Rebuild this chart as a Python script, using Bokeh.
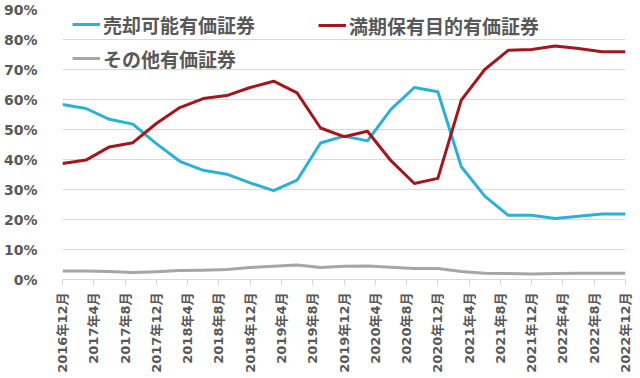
from math import pi
from bokeh.plotting import figure
from bokeh.models import (Range1d, FixedTicker, PrintfTickFormatter, Legend, LegendItem)
from bokeh.embed import file_html
from bokeh.resources import INLINE

# ---- data (quarter-end dates, % of total) ----
dates = ["2016-12", "2017-03", "2017-06", "2017-09", "2017-12", "2018-03", "2018-06",
         "2018-09", "2018-12", "2019-03", "2019-06", "2019-09", "2019-12", "2020-03",
         "2020-06", "2020-09", "2020-12", "2021-03", "2021-06", "2021-09", "2021-12",
         "2022-03", "2022-06", "2022-09", "2022-12"]
available_for_sale = [58.3, 57.0, 53.4, 51.8, 45.3, 39.4, 36.4, 35.1, 32.2, 29.6, 33.1, 45.5,
                      47.8, 46.2, 56.7, 64.0, 62.6, 37.6, 27.8, 21.4, 21.4, 20.3, 21.1, 21.8, 21.8]
held_to_maturity = [38.7, 39.8, 44.2, 45.6, 52.0, 57.3, 60.3, 61.3, 64.0, 66.1, 62.2, 50.5,
                    47.6, 49.4, 39.6, 32.0, 33.7, 59.8, 70.0, 76.4, 76.7, 77.8, 77.0, 75.9, 75.9]
other = [2.8, 2.8, 2.7, 2.3, 2.6, 3.0, 3.1, 3.3, 4.0, 4.4, 4.8, 4.0,
         4.4, 4.5, 4.1, 3.7, 3.7, 2.7, 2.1, 2.0, 1.8, 2.0, 2.1, 2.1, 2.1]
tick_labels = ["2016年12月", "2017年4月", "2017年8月", "2017年12月", "2018年4月", "2018年8月",
               "2018年12月", "2019年4月", "2019年8月", "2019年12月", "2020年4月", "2020年8月",
               "2020年12月", "2021年4月", "2021年8月", "2021年12月", "2022年4月", "2022年8月",
               "2022年12月"]
y_ticks = [0, 10, 20, 30, 40, 50, 60, 70, 80, 90]
series_names = ["売却可能有価証券", "満期保有目的有価証券", "その他有価証券"]

# ---- convert dates to month index ----
def month_index(s):
    y, m = s.split("-")
    return (int(y) - 2016) * 12 + int(m) - 12

xs = [month_index(d) for d in dates]
tick_pos = list(range(0, 73, 4))

TEXT = "#595959"
GRID = "#D9D9D9"

p = figure(width=640, height=378, output_backend="svg", toolbar_location=None,
           x_range=Range1d(0, 72), y_range=Range1d(0, 90),
           min_border_left=57, min_border_right=15, min_border_top=9, min_border_bottom=99)
p.outline_line_color = None
p.background_fill_color = "white"

r_blue = p.line(xs, available_for_sale, line_color="#2BB0D8", line_width=3, line_join="round")
r_red = p.line(xs, held_to_maturity, line_color="#A3161B", line_width=3, line_join="round")
r_gray = p.line(xs, other, line_color="#A6A6A6", line_width=3, line_join="round")

# y axis
p.yaxis.ticker = FixedTicker(ticks=y_ticks)
p.yaxis.formatter = PrintfTickFormatter(format="%d%%")
p.yaxis.axis_line_color = None
p.yaxis.major_tick_line_color = None
p.yaxis.minor_tick_line_color = None
p.yaxis.major_label_standoff = 19
p.yaxis.major_label_text_font = "DejaVu Sans"
p.yaxis.major_label_text_font_style = "bold"
p.yaxis.major_label_text_font_size = "14px"
p.yaxis.major_label_text_color = TEXT

# x axis
p.xaxis.ticker = FixedTicker(ticks=tick_pos)
p.xaxis.major_label_overrides = {t: lab for t, lab in zip(tick_pos, tick_labels)}
p.xaxis.major_label_orientation = pi / 2
p.xaxis.axis_line_color = GRID
p.xaxis.major_tick_line_color = GRID
p.xaxis.major_tick_in = 0
p.xaxis.major_tick_out = 6
p.xaxis.minor_tick_line_color = None
p.xaxis.major_label_standoff = 7
p.xaxis.major_label_text_font = "DejaVu Sans, Noto Sans CJK JP"
p.xaxis.major_label_text_font_style = "bold"
p.xaxis.major_label_text_font_size = "13px"
p.xaxis.major_label_text_color = TEXT

p.xgrid.grid_line_color = None
p.ygrid.grid_line_color = GRID
p.ygrid.grid_line_width = 1

def make_legend(items, loc):
    lg = Legend(items=items, location=loc, orientation="vertical",
                background_fill_alpha=0, border_line_color=None,
                padding=0, margin=0, spacing=6,
                glyph_width=28, glyph_height=28, label_height=28, label_standoff=3,
                label_text_font="Noto Sans CJK JP", label_text_font_size="19px",
                label_text_font_style="bold", label_text_color=TEXT)
    return lg

lg1 = make_legend([LegendItem(label=series_names[0], renderers=[r_blue]),
                   LegendItem(label=series_names[2], renderers=[r_gray])], (10, 207))
lg2 = make_legend([LegendItem(label=series_names[1], renderers=[r_red])], (256, 240))
p.add_layout(lg1, "center")
p.add_layout(lg2, "center")

open("out.html", "w").write(file_html(p, INLINE))
